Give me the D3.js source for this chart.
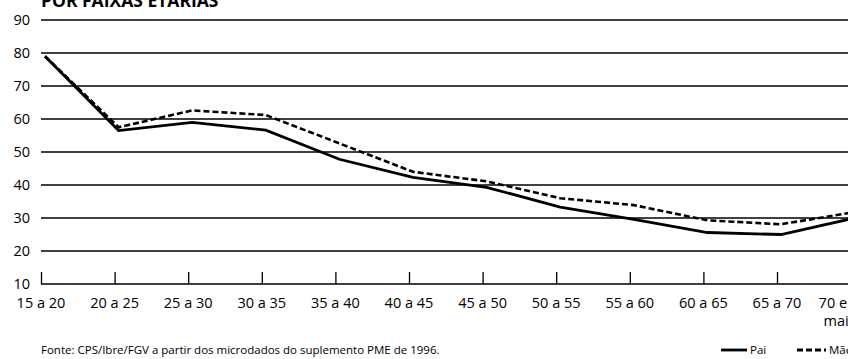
<!DOCTYPE html>
<html>
<head>
<meta charset="utf-8">
<script src="https://cdn.jsdelivr.net/npm/d3@7"></script>
<style>
  body { margin: 0; background: #fff; }
  svg { display: block; font-family: "Open Sans", sans-serif; }
</style>
</head>
<body>
<script>
// Age groups and values
var categories = ["15 a 20", "20 a 25", "25 a 30", "30 a 35", "35 a 40", "40 a 45",
                  "45 a 50", "50 a 55", "55 a 60", "60 a 65", "65 a 70", "70 e|mais"];
var pai = [79, 56.5, 59, 56.6, 47.8, 42.3, 39.3, 33.3, 29.6, 25.6, 25, 30];
var mae = [79, 57.5, 62.6, 61.2, 52.6, 44, 41.1, 36, 33.9, 29.3, 28.1, 31.8];
var yTicks = [10, 20, 30, 40, 50, 60, 70, 80, 90];

var width = 848, height = 359;

var svg = d3.select("body").append("svg")
    .attr("width", width)
    .attr("height", height);

// Scales
var x = d3.scalePoint()
    .domain(categories)
    .range([41, 41 + 73.6 * 11]);

var y = d3.scaleLinear()
    .domain([10, 90])
    .range([284, 20]);

// Title (cut at top like the original)
svg.append("text")
    .attr("x", 41)
    .attr("y", 7)
    .style("font-weight", "bold")
    .style("font-size", "17.5px")
    .text("POR FAIXAS ETÁRIAS");

// Gridlines
svg.append("g")
    .selectAll("line")
    .data(yTicks.filter(function(d) { return d > 10; }))
    .enter().append("line")
    .attr("x1", 41)
    .attr("x2", width)
    .attr("y1", function(d) { return y(d); })
    .attr("y2", function(d) { return y(d); })
    .attr("stroke", "#000")
    .attr("stroke-width", 1.3);

// Y labels
svg.append("g")
    .selectAll("text")
    .data(yTicks)
    .enter().append("text")
    .attr("x", 30)
    .attr("y", function(d) { return y(d) + 5; })
    .attr("text-anchor", "end")
    .style("font-size", "14.5px")
    .text(function(d) { return d; });

// Bottom axis with upward ticks
var xAxis = d3.axisBottom(x).tickSize(-12).tickFormat("");
var gx = svg.append("g")
    .attr("transform", "translate(0," + y(10) + ")")
    .call(xAxis);
gx.select(".domain")
    .attr("d", "M41,0H" + width)
    .attr("stroke-width", 1.3);
gx.selectAll(".tick line").attr("stroke-width", 1.3);

// X labels (the last one wraps onto two lines, left-aligned near the edge)
var labels = svg.append("g")
    .selectAll("text")
    .data(categories)
    .enter().append("text")
    .attr("y", 308)
    .style("font-size", "14.5px");
labels.each(function(d) {
    var parts = d.split("|");
    var t = d3.select(this);
    if (parts.length === 1) {
        t.attr("x", x(d)).attr("text-anchor", "middle").text(d);
        return;
    }
    parts.forEach(function(p, i) {
        t.append("tspan")
            .attr("x", x(d) - 32 + (i > 0 ? 5 : 0))
            .attr("dy", i === 0 ? 0 : 18)
            .text(p);
    });
});

// Lines
var line = d3.line()
    .x(function(d, i) { return x(categories[i]) + 4; })
    .y(function(d) { return y(d); });

svg.append("path")
    .datum(mae)
    .attr("d", line)
    .attr("fill", "none")
    .attr("stroke", "#000")
    .attr("stroke-width", 2.6)
    .attr("stroke-dasharray", "6,3");

svg.append("path")
    .datum(pai)
    .attr("d", line)
    .attr("fill", "none")
    .attr("stroke", "#000")
    .attr("stroke-width", 2.8);

// Source note
svg.append("text")
    .attr("x", 41)
    .attr("y", 354)
    .style("font-size", "11.5px")
    .text("Fonte: CPS/Ibre/FGV a partir dos microdados do suplemento PME de 1996.");

// Legend
var legend = [{ name: "Pai", dash: null, x: 721 }, { name: "Mãe", dash: "6,3", x: 797 }];
var lg = svg.append("g")
    .selectAll("g")
    .data(legend)
    .enter().append("g")
    .attr("transform", function(d) { return "translate(" + d.x + ",350)"; });
lg.append("line")
    .attr("x1", 0)
    .attr("x2", function(d) { return d.dash ? 29 : 26; })
    .attr("stroke", "#000")
    .attr("stroke-width", 2.8)
    .attr("stroke-dasharray", function(d) { return d.dash; });
lg.append("text")
    .attr("x", function(d) { return d.dash ? 32 : 29; })
    .attr("y", 4)
    .style("font-size", "11.5px")
    .text(function(d) { return d.name; });
</script>
</body>
</html>
